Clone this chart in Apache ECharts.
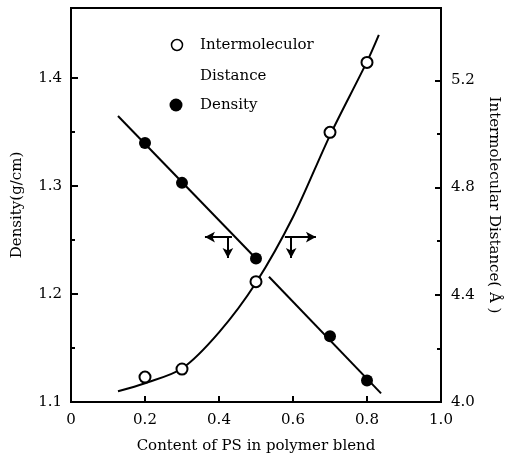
<!DOCTYPE html>
<html>
<head>
<meta charset="utf-8">
<script src="https://cdn.jsdelivr.net/npm/echarts@6/dist/echarts.min.js"></script>
<style>
  html, body { margin: 0; padding: 0; background: #fff; }
  #chart { width: 510px; height: 465px; }
</style>
</head>
<body>
<div id="chart"></div>
<script>
// PS content in the blend (x) for the measured samples
const psContent = [0.2, 0.3, 0.5, 0.7, 0.8];
// Measured density, g/cm3
const densityValues = [1.340, 1.303, 1.233, 1.161, 1.120];
// Measured intermolecular distance, Å
const distanceValues = [4.093, 4.123, 4.449, 5.006, 5.267];

// Straight fits through the density points (two branches)
const densityFitLow = [[0.127, 1.365], [0.5, 1.233]];
const densityFitHigh = [[0.535, 1.216], [0.838, 1.108]];
// Fitted curve through the distance points
const distanceFit = [
  [0.127, 4.04], [0.2, 4.07], [0.3, 4.125], [0.4, 4.26], [0.5, 4.445],
  [0.6, 4.69], [0.7, 4.995], [0.8, 5.27], [0.832, 5.37]
];

// Tick labels
const xTicks = [0, 0.2, 0.4, 0.6, 0.8, 1.0];
const densityTicks = [1.1, 1.2, 1.3, 1.4];
const densityMinorTicks = [1.15, 1.25, 1.35];
const distanceTicks = [4.0, 4.4, 4.8, 5.2];
const distanceMinorTicks = [4.2, 4.6, 5.0];

// Arrows showing which axis each curve belongs to (density coordinates)
const arrowLeft = { from: [0.435, 1.2528], to: [0.362, 1.2528], downX: 0.424, downTo: 1.2333 };
const arrowRight = { from: [0.578, 1.2528], to: [0.662, 1.2528], downX: 0.595, downTo: 1.2333 };

const FONT = '"DejaVu Serif", "Liberation Serif", serif';
const black = '#000';

const pairs = (xs, ys) => xs.map((x, i) => [x, ys[i]]);

const chart = echarts.init(document.getElementById('chart'), null, { renderer: 'canvas' });

const arrowLines = a => [
  [
    { coord: a.from, symbol: 'none' },
    { coord: a.to, symbol: 'arrow', symbolSize: [8, 10] }
  ],
  [
    { coord: [a.downX, a.from[1]], symbol: 'none' },
    { coord: [a.downX, a.downTo], symbol: 'arrow', symbolSize: [8, 10] }
  ]
];

const option = {
  animation: false,
  backgroundColor: '#fff',
  grid: {
    left: 71, right: 69, top: 8, bottom: 63,
    show: true, borderColor: black, borderWidth: 2, backgroundColor: 'transparent'
  },
  xAxis: {
    type: 'value',
    min: 0, max: 1,
    name: 'Content of PS in polymer blend',
    nameLocation: 'middle',
    nameGap: 37,
    nameTextStyle: { fontFamily: FONT, fontSize: 15, color: black },
    axisLine: { lineStyle: { color: black, width: 2 } },
    axisTick: { inside: true, length: 6, lineStyle: { color: black, width: 2 }, customValues: [0.2, 0.4, 0.6, 0.8] },
    axisLabel: {
      customValues: xTicks, margin: 11, fontFamily: FONT, fontSize: 15, color: black,
      formatter: v => (v === 0 ? '0' : v.toFixed(1))
    },
    splitLine: { show: false }
  },
  yAxis: [
    {
      type: 'value', position: 'left',
      min: 1.1, max: 1.465,
      name: 'Density(g/cm)',
      nameLocation: 'middle', nameRotate: 90, nameGap: 46,
      nameTextStyle: { fontFamily: FONT, fontSize: 15, color: black },
      axisLine: { show: true, lineStyle: { color: black, width: 2 } },
      axisTick: { inside: true, length: 7, lineStyle: { color: black, width: 2 }, customValues: densityTicks },
      axisLabel: { customValues: densityTicks, margin: 9, fontFamily: FONT, fontSize: 15, color: black, formatter: v => v.toFixed(1) },
      splitLine: { show: false }
    },
    {
      type: 'value', position: 'right',
      min: 4.0, max: 5.47,
      name: 'Intermolecular Distance( Å )',
      nameLocation: 'middle', nameRotate: -90, nameGap: 45,
      nameTextStyle: { fontFamily: FONT, fontSize: 15, color: black },
      axisLine: { show: true, lineStyle: { color: black, width: 2 } },
      axisTick: { inside: true, length: 6, lineStyle: { color: black, width: 2 }, customValues: distanceTicks },
      axisLabel: { customValues: distanceTicks, margin: 10, fontFamily: FONT, fontSize: 15, color: black, formatter: v => v.toFixed(1) },
      splitLine: { show: false }
    },
    {
      type: 'value', position: 'left', min: 1.1, max: 1.465,
      axisLine: { show: false },
      axisTick: { inside: true, length: 4, lineStyle: { color: black, width: 2 }, customValues: densityMinorTicks },
      axisLabel: { show: false },
      splitLine: { show: false }
    },
    {
      type: 'value', position: 'right', min: 4.0, max: 5.47,
      axisLine: { show: false },
      axisTick: { inside: true, length: 4, lineStyle: { color: black, width: 2 }, customValues: distanceMinorTicks },
      axisLabel: { show: false },
      splitLine: { show: false }
    }
  ],
  series: [
    {
      name: 'Density fit (low PS)',
      type: 'line', yAxisIndex: 0,
      data: densityFitLow, showSymbol: false, symbol: 'none',
      lineStyle: { color: black, width: 2 },
      z: 2,
      markLine: {
        silent: true, animation: false,
        label: { show: false },
        lineStyle: { color: black, width: 2, type: 'solid' },
        data: [...arrowLines(arrowLeft), ...arrowLines(arrowRight)]
      }
    },
    {
      name: 'Density fit (high PS)',
      type: 'line', yAxisIndex: 0,
      data: densityFitHigh, showSymbol: false, symbol: 'none',
      lineStyle: { color: black, width: 2 }, z: 2
    },
    {
      name: 'Distance fit',
      type: 'line', yAxisIndex: 1,
      data: distanceFit, smooth: 0.3, showSymbol: false, symbol: 'none',
      lineStyle: { color: black, width: 2 }, z: 2
    },
    {
      name: 'Density',
      type: 'scatter', yAxisIndex: 0,
      data: pairs(psContent, densityValues),
      symbol: 'circle', symbolSize: 12,
      itemStyle: { color: black, opacity: 1 }, z: 3
    },
    {
      name: 'Intermoleculor Distance',
      type: 'scatter', yAxisIndex: 1,
      data: pairs(psContent, distanceValues),
      symbol: 'circle', symbolSize: 11,
      itemStyle: { color: '#fff', borderColor: black, borderWidth: 2, opacity: 1 }, z: 3
    }
  ],
  graphic: [
    { type: 'circle', shape: { cx: 177, cy: 45, r: 5.5 }, style: { fill: '#fff', stroke: black, lineWidth: 1.5 } },
    { type: 'text', x: 200, y: 45, style: { text: 'Intermoleculor', font: '15px ' + FONT, fill: black, verticalAlign: 'middle' } },
    { type: 'text', x: 200, y: 76, style: { text: 'Distance', font: '15px ' + FONT, fill: black, verticalAlign: 'middle' } },
    { type: 'circle', shape: { cx: 176, cy: 105, r: 6.5 }, style: { fill: black } },
    { type: 'text', x: 200, y: 105, style: { text: 'Density', font: '15px ' + FONT, fill: black, verticalAlign: 'middle' } }
  ]
};

chart.setOption(option);
</script>
</body>
</html>
